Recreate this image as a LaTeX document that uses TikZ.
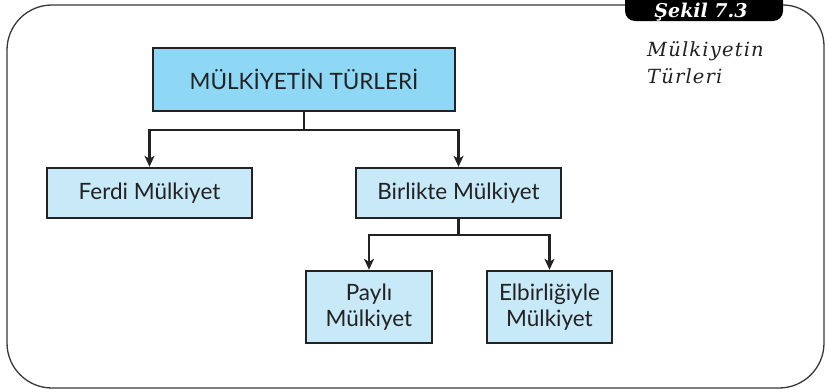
\documentclass[tikz,border=0pt]{standalone}
\usepackage{fontspec}
\setmainfont{Lato}
\newfontfamily\capfont{DejaVu Serif}
\newfontfamily\capfontsp[LetterSpace=6]{DejaVu Serif}
\usetikzlibrary{arrows.meta}
\definecolor{topblue}{HTML}{8FD8F5}
\definecolor{subblue}{HTML}{C8E9F8}
\definecolor{inkline}{HTML}{222222}
\tikzset{
  box/.style={draw=inkline, line width=2.4pt, fill=subblue, inner sep=0pt, align=center,
              font=\fontsize{22.5}{25.5}\selectfont, text=inkline},
  topbox/.style={box, fill=topblue},
  link/.style={draw=inkline, line width=2.4pt},
  arr/.style={link, -{Stealth[length=11pt,width=10pt,inset=3pt]}},
}
\begin{document}
\begin{tikzpicture}[x=1pt,y=-1pt]
\useasboundingbox (0,0) rectangle (830,391);
% frame
\draw[line width=1.3pt, draw=inkline!90]
  (400,5) [rounded corners=41pt] -- (824,5) [rounded corners=45pt] -- (824,388) -- (7,388) -- (7,5) -- (400,5);
% tab
\fill[black, rounded corners=10pt] (625,-14) -- (625,21) -- (783,21) -- (783,-14) -- cycle;
\node[anchor=base, text=white, inner sep=0pt, font=\capfont\bfseries\itshape\fontsize{19}{20}\selectfont] (tab) at (701,17) {Şekil 7.3};
% caption
\node[anchor=north west, align=left, text=inkline, inner sep=0pt, font=\capfontsp\itshape\fontsize{19.5}{27}\selectfont] (cap) at (647,41) {Mülkiyetin\\Türleri};
% boxes
\node[topbox, minimum width=302pt, minimum height=63pt] (top) at (304,79.5) {MÜLKİYETİN TÜRLERİ};
\node[box, minimum width=205pt, minimum height=50pt] (ferdi) at (149.5,193) {Ferdi Mülkiyet};
\node[box, minimum width=205pt, minimum height=50pt] (birl) at (458.5,193) {Birlikte Mülkiyet};
\node[box, minimum width=126pt, minimum height=72pt] (payli) at (369,307) {Paylı\\Mülkiyet};
\node[box, minimum width=125pt, minimum height=72pt] (elb) at (549.5,307) {Elbirliğiyle\\Mülkiyet};
% connectors
\coordinate (j1) at (304,130);
\coordinate (j2) at (458.5,235);
\draw[link] (top.south) -- (j1);
\draw[arr] (j1) -| (ferdi.north);
\draw[arr] (j1) -| (birl.north);
\draw[link] (birl.south) -- (j2);
\draw[arr] (j2) -| (payli.north);
\draw[arr] (j2) -| (elb.north);
\end{tikzpicture}
\end{document}
